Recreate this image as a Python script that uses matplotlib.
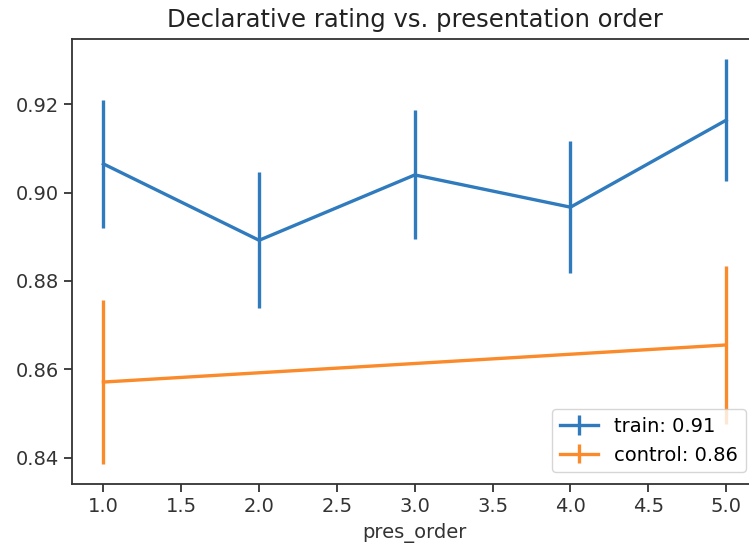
import matplotlib
matplotlib.use("Agg")
import matplotlib.pyplot as plt

pres_order = [1.0, 2.0, 3.0, 4.0, 5.0]
train_mean = [0.9065, 0.8892, 0.9040, 0.8967, 0.9164]
train_err = [0.0145, 0.0154, 0.0146, 0.0150, 0.0138]

control_order = [1.0, 5.0]
control_mean = [0.8571, 0.8655]
control_err = [0.0185, 0.0179]

train_label = "train: 0.91"
control_label = "control: 0.86"

fig = plt.figure(figsize=(7.49, 5.54), dpi=100)
ax = fig.add_axes([0.0965, 0.1264, 0.9146, 0.8032])

lw = 2.4
ax.errorbar(pres_order, train_mean, yerr=train_err, color="#2f7bbd",
            lw=lw, elinewidth=lw, label=train_label)
ax.errorbar(control_order, control_mean, yerr=control_err, color="#fa8a2a",
            lw=lw, elinewidth=lw, label=control_label)

ax.set_xticks([1.0, 1.5, 2.0, 2.5, 3.0, 3.5, 4.0, 4.5, 5.0])
ax.set_yticks([0.84, 0.86, 0.88, 0.90, 0.92])
ax.tick_params(labelsize=14, length=6, width=1.3, colors="#333333")
for s in ax.spines.values():
    s.set_linewidth(1.3)
    s.set_color("#333333")

ax.set_title("Declarative rating vs. presentation order", fontsize=17.5, color="#222222", pad=9)
ax.set_xlabel("pres_order", fontsize=14, color="#333333", labelpad=5)
ax.legend(loc="lower right", fontsize=14, borderaxespad=0.6)

fig.savefig("out.png", dpi=100)
